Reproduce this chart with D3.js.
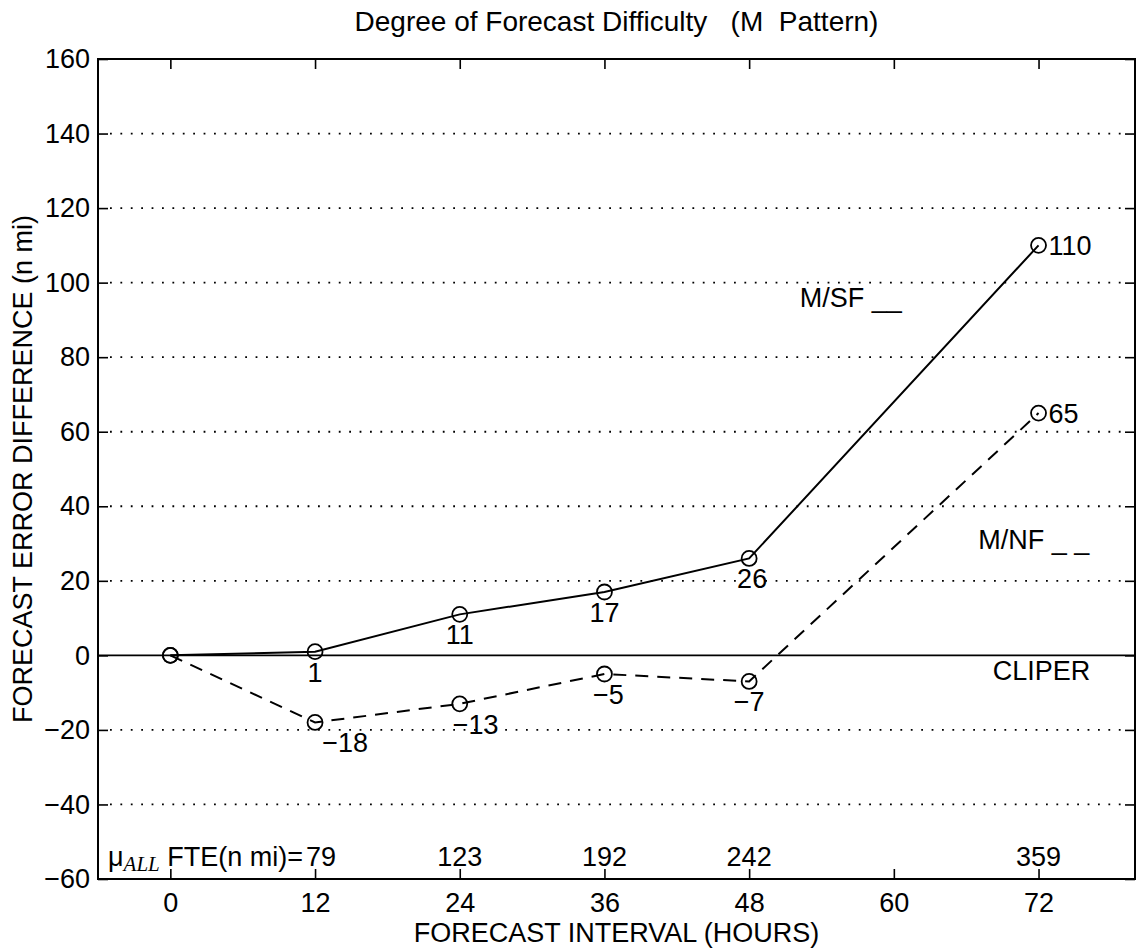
<!DOCTYPE html>
<meta charset="utf-8">
<style>
body { margin: 0; background: #fff; }
text { font-family: "Liberation Sans", Arial, Helvetica, sans-serif; fill: #000; }
.axis text { font-size: 27px; }
.axis line { stroke: #000; stroke-width: 1.6; }
</style>
<svg width="1138" height="951"></svg>
<script src="https://cdn.jsdelivr.net/npm/d3@7"></script>
<script>

// forecast intervals (hours) and error differences (n mi) vs CLIPER
var hours = [0, 12, 24, 36, 48, 72]
var msf = [0, 1, 11, 17, 26, 110]
var mnf = [0, -18, -13, -5, -7, 65]

// mean FTE of all forecasts, written along the bottom of the plot
var fteHours = [12, 24, 36, 48, 72]
var fteValues = [79, 123, 192, 242, 359]

var xTicks = [0, 12, 24, 36, 48, 60, 72]
var yTicks = [-60, -40, -20, 0, 20, 40, 60, 80, 100, 120, 140, 160]

// text annotations, placed in data units like matlab text()
var notes = [
  { t: "M/SF __", x: 52.2, y: 96 },
  { t: "M/NF _ _", x: 67, y: 31 },
  { t: "CLIPER", x: 68.2, y: -4 }
]

var svg = d3.select("svg")

var pLeft = 98, pRight = 1135, pTop = 59, pBottom = 879

var x = d3.scaleLinear().domain([-6, 80]).range([pLeft, pRight])
var y = d3.scaleLinear().domain([-60, 160]).range([pBottom, pTop])

// dotted grid
svg.append("g")
  .selectAll("line")
  .data(yTicks.filter(function(d){ return d != -60 && d != 0 && d != 160 }))
  .enter().append("line")
    .attr("x1", pLeft + 12).attr("x2", pRight - 10)
    .attr("y1", function(d){ return y(d) }).attr("y2", function(d){ return y(d) })
    .attr("stroke", "#000")
    .attr("stroke-width", 1.8)
    .attr("stroke-dasharray", "1.8 8.6")

// CLIPER reference line
svg.append("line")
  .attr("x1", pLeft).attr("x2", pRight)
  .attr("y1", y(0)).attr("y2", y(0))
  .attr("stroke", "#000")
  .attr("stroke-width", 1.6)

svg.append("g").attr("class", "axis")
  .attr("transform", "translate(0," + pBottom + ")")
  .call(d3.axisBottom(x).tickValues(xTicks).tickSize(-10).tickPadding(14))
svg.append("g").attr("class", "axis")
  .attr("transform", "translate(0," + pTop + ")")
  .call(d3.axisTop(x).tickValues(xTicks).tickSize(-10).tickFormat(""))
svg.append("g").attr("class", "axis")
  .attr("transform", "translate(" + pLeft + ",0)")
  .call(d3.axisLeft(y).tickValues(yTicks).tickSize(-10).tickPadding(8))
svg.append("g").attr("class", "axis")
  .attr("transform", "translate(" + pRight + ",0)")
  .call(d3.axisRight(y).tickValues(yTicks).tickSize(-10).tickFormat(""))
svg.selectAll(".axis .domain").remove()
svg.selectAll(".axis text").attr("font-family", null)

svg.append("rect")
  .attr("x", pLeft).attr("y", pTop)
  .attr("width", pRight - pLeft).attr("height", pBottom - pTop)
  .attr("fill", "none")
  .attr("stroke", "#000")
  .attr("stroke-width", 2)

var line = d3.line()
  .x(function(d, i){ return x(hours[i]) })
  .y(function(d){ return y(d) })

// shift: nudges of the value labels so they clear the lines
var series = [
  { v: msf, dash: null, shift: [0, 0, 0, 0, 3, 0] },
  { v: mnf, dash: "13 9", shift: [0, 30, 16, 4, 0, 0] }
]

series.forEach(function(s){
  svg.append("path")
    .datum(s.v)
    .attr("d", line)
    .attr("fill", "none")
    .attr("stroke", "#000")
    .attr("stroke-width", 2)
    .attr("stroke-dasharray", s.dash)

  svg.append("g")
    .selectAll("circle")
    .data(s.v)
    .enter().append("circle")
      .attr("cx", function(d, i){ return x(hours[i]) })
      .attr("cy", function(d){ return y(d) })
      .attr("r", 7.5)
      .attr("fill", "none")
      .attr("stroke", "#000")
      .attr("stroke-width", 1.8)

  // value labels: under the point, the last one to its right
  var last = s.v.length - 1
  var pts = s.v.map(function(d, i){ return { v: d, i: i } }).slice(1)
  svg.append("g")
    .selectAll("text")
    .data(pts)
    .enter().append("text")
      .attr("font-size", 27)
      .attr("x", function(d){ return x(hours[d.i]) + s.shift[d.i] + (d.i == last ? 10 : 0) })
      .attr("y", function(d){ return d.i == last ? y(d.v) + 10 : y(d.v) + 30 })
      .attr("text-anchor", function(d){ return d.i == last ? "start" : "middle" })
      .text(function(d){ return d3.format("")(d.v) })
})

svg.append("g")
  .selectAll("text")
  .data(notes)
  .enter().append("text")
    .attr("font-size", 27)
    .attr("x", function(d){ return x(d.x) })
    .attr("y", function(d){ return y(d.y) })
    .attr("dy", "0.35em")
    .style("white-space", "pre")
    .text(function(d){ return d.t })

// mean FTE row
svg.append("g")
  .selectAll("text")
  .data(fteValues)
  .enter().append("text")
    .attr("font-size", 27)
    .attr("x", function(d, i){ return x(fteHours[i]) + (i == 0 ? 6 : 0) })
    .attr("y", pBottom - 13)
    .attr("text-anchor", "middle")
    .text(function(d){ return d })

var mu = svg.append("text")
  .attr("font-size", 27)
  .attr("x", x(fteHours[0]) - 12)
  .attr("y", pBottom - 13)
  .attr("text-anchor", "end")
mu.append("tspan").text("\u03bc")
mu.append("tspan")
  .attr("dy", 5)
  .attr("font-size", 21)
  .attr("font-style", "italic")
  .attr("font-family", "'Liberation Serif', 'Times New Roman', serif")
  .text("ALL")
mu.append("tspan").attr("dy", -5).style("white-space", "pre").text(" FTE(n mi)=")

svg.append("text")
  .attr("font-size", 28)
  .attr("x", (pLeft + pRight) / 2)
  .attr("y", 31)
  .attr("text-anchor", "middle")
  .style("white-space", "pre")
  .text("Degree of Forecast Difficulty   (M  Pattern)")

svg.append("text")
  .attr("font-size", 27)
  .attr("x", (pLeft + pRight) / 2)
  .attr("y", 942)
  .attr("text-anchor", "middle")
  .text("FORECAST INTERVAL (HOURS)")

svg.append("text")
  .attr("font-size", 27)
  .attr("transform", "translate(32," + ((pTop + pBottom) / 2) + ") rotate(-90)")
  .attr("text-anchor", "middle")
  .text("FORECAST ERROR DIFFERENCE (n mi)")

</script>
